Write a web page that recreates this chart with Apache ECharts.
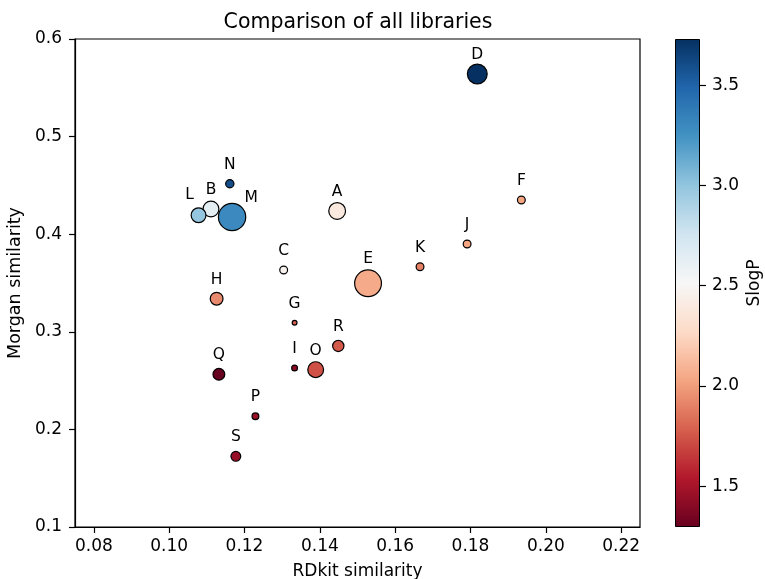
<!DOCTYPE html>
<html><head><meta charset="utf-8">
<script src="https://cdn.jsdelivr.net/npm/echarts@6/dist/echarts.min.js"></script>
<style>html,body{margin:0;padding:0;background:#fff}#c{width:765px;height:579px}</style>
</head><body><div id="c"></div>
<script>
// ---- data ----
const libraries = ['A','B','C','D','E','F','G','H','I','J','K','L','M','N','O','P','Q','R','S'];
const rdkitSimilarity = [0.1446,0.1111,0.1304,0.1818,0.1528,0.1935,0.1333,0.1126,0.1333,0.1791,0.1666,0.1078,0.1167,0.1161,0.1389,0.1229,0.1132,0.1449,0.1177];
const morganSimilarity = [0.4238,0.4258,0.3633,0.5641,0.3497,0.4350,0.3093,0.3339,0.2629,0.3900,0.3667,0.4194,0.4176,0.4517,0.2612,0.2134,0.2565,0.2855,0.1724];
const slogP = [2.39,2.64,2.47,3.73,2.05,2.03,1.78,1.93,1.42,2.03,1.90,2.99,3.30,3.60,1.73,1.47,1.30,1.76,1.45];
const bubbleArea = [324,289,81,441,784,81,36,196,49,81,81,256,812,90,289,64,169,156,121];
const xTicks = [0.08,0.10,0.12,0.14,0.16,0.18,0.20,0.22];
const yTicks = [0.1,0.2,0.3,0.4,0.5,0.6];
const cbTicks = [1.5,2.0,2.5,3.0,3.5];
const cbRange = [1.296, 3.731];

// ---- styles ----
const FONT = 'DejaVu Sans';
const rdbu = ['#67001f','#b2182b','#d6604d','#f4a582','#fddbc7','#f7f7f7','#d1e5f0','#92c5de','#4393c3','#2166ac','#053061'];
const labelOffset = {E:[0,-24], M:[19,-19], L:[-9,-20]};
const defaultOffset = [0,-19];

const scatterData = libraries.map((name,i)=>({
  value:[rdkitSimilarity[i], morganSimilarity[i], slogP[i], bubbleArea[i], name],
  label:{offset: labelOffset[name] || defaultOffset}
}));

const gradStops = rdbu.map((c,i)=>({offset:i/(rdbu.length-1), color: rdbu[rdbu.length-1-i]}));

const chart = echarts.init(document.getElementById('c'), null, {renderer:'canvas'});
chart.setOption({
  animation:false,
  backgroundColor:'#fff',
  title:{text:'Comparison of all libraries', left:358, top:12, textAlign:'center', padding:0,
    textStyle:{fontFamily:FONT, fontSize:20.5, fontWeight:'normal', color:'#000'}},
  grid:[
    {left:75, top:39, right:125, bottom:52, outerBoundsMode:'none', containLabel:false, show:true, borderColor:'#000', borderWidth:1.2, backgroundColor:'transparent'},
    {left:675, top:39, width:25, height:488, outerBoundsMode:'none', containLabel:false}
  ],
  xAxis:[
    {type:'value', gridIndex:0, min:0.075, max:0.225,
      axisLine:{show:true, lineStyle:{color:'#000', width:1.2}},
      axisTick:{show:true, customValues:xTicks, length:6, lineStyle:{color:'#000', width:1.2}},
      axisLabel:{customValues:xTicks, formatter:v=>v.toFixed(2), fontFamily:FONT, fontSize:17, color:'#000', margin:11},
      splitLine:{show:false},
      name:'RDkit similarity', nameLocation:'middle', nameGap:36,
      nameTextStyle:{fontFamily:FONT, fontSize:17, color:'#000'}},
    {type:'category', gridIndex:1, data:['cb'], show:false}
  ],
  yAxis:[
    {type:'value', gridIndex:0, min:0.1, max:0.6,
      axisLine:{show:true, lineStyle:{color:'#000', width:1.2}},
      axisTick:{show:true, customValues:yTicks, length:6, lineStyle:{color:'#000', width:1.2}},
      axisLabel:{customValues:yTicks, formatter:v=>v.toFixed(1), fontFamily:FONT, fontSize:17, color:'#000', margin:13},
      splitLine:{show:false},
      name:'Morgan similarity', nameLocation:'middle', nameGap:43, nameRotate:90,
      nameTextStyle:{fontFamily:FONT, fontSize:17.5, color:'#000'}},
    {type:'value', gridIndex:1, min:cbRange[0], max:cbRange[1], position:'right',
      axisLine:{show:false},
      axisTick:{show:true, customValues:cbTicks, length:6, lineStyle:{color:'#000', width:1.2}},
      axisLabel:{customValues:cbTicks, formatter:v=>v.toFixed(1), fontFamily:FONT, fontSize:17, color:'#000', margin:12},
      splitLine:{show:false},
      name:'SlogP', nameLocation:'middle', nameGap:46, nameRotate:90,
      nameTextStyle:{fontFamily:FONT, fontSize:17, color:'#000'}}
  ],
  visualMap:{type:'continuous', show:false, seriesIndex:0, dimension:2, min:cbRange[0], max:cbRange[1],
    inRange:{color:rdbu}},
  series:[
    {type:'scatter', xAxisIndex:0, yAxisIndex:0, data:scatterData,
      symbolSize:v=>Math.sqrt(v[3])-1.2,
      itemStyle:{borderColor:'#000', borderWidth:1.2, opacity:1},
      label:{show:true, position:'inside', formatter:p=>p.value[4], color:'#000', fontFamily:FONT, fontSize:15.5},
      emphasis:{disabled:true}},
    {type:'bar', xAxisIndex:1, yAxisIndex:1, stack:'cb', barWidth:'100%', data:[cbRange[0]],
      itemStyle:{color:'transparent'}, silent:true},
    {type:'bar', xAxisIndex:1, yAxisIndex:1, stack:'cb', barWidth:'100%', data:[cbRange[1]-cbRange[0]],
      itemStyle:{color:new echarts.graphic.LinearGradient(0,0,0,1,gradStops), borderColor:'#000', borderWidth:1}, silent:true}
  ]
});
</script></body></html>
